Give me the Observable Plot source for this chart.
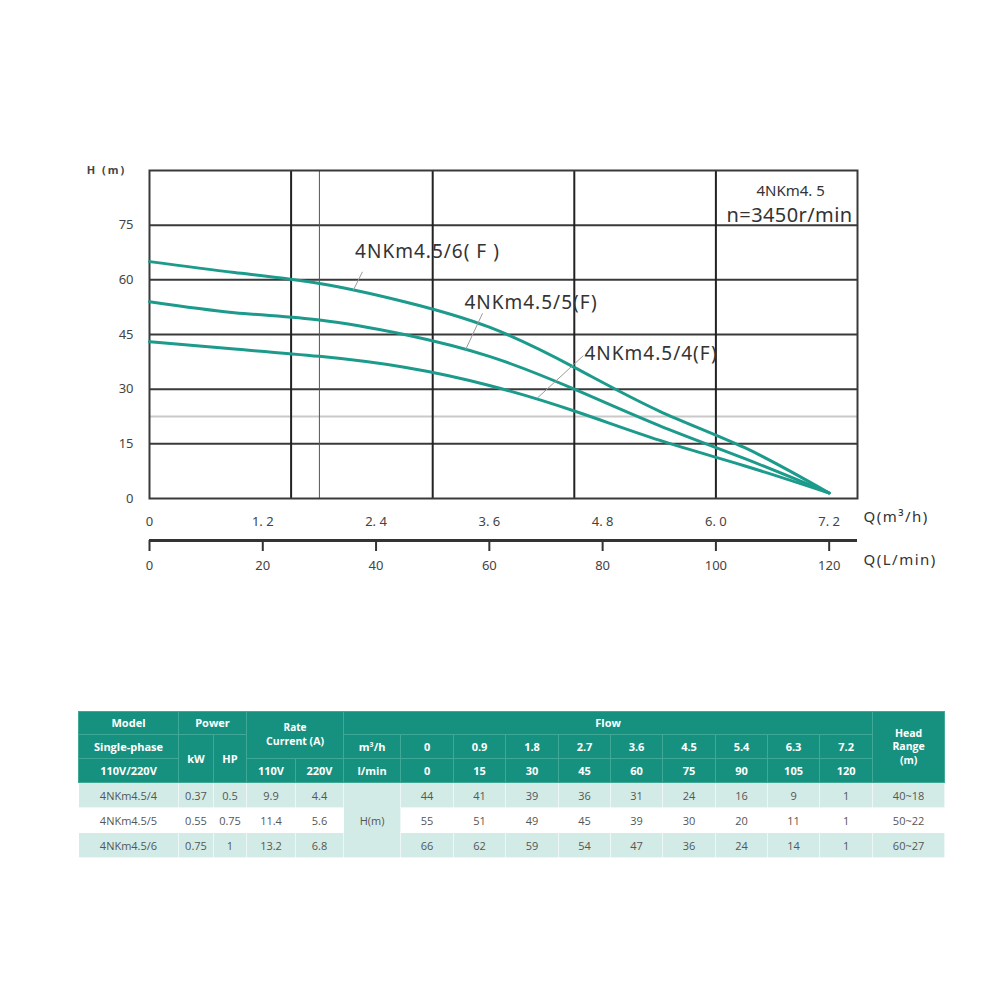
<!DOCTYPE html>
<html>
<head>
<meta charset="utf-8">
<script src="https://cdn.jsdelivr.net/npm/d3@7"></script>
<script src="https://cdn.jsdelivr.net/npm/@observablehq/plot@0.6"></script>
<style>
  html, body { margin: 0; padding: 0; background: #fff; width: 1000px; height: 1000px; overflow: hidden; }
  #chart { position: absolute; left: 0; top: 0; }
  #tbl { position: absolute; left: 78px; top: 711px; }
  table { border-collapse: collapse; table-layout: fixed; width: 866px; font-family: "Open Sans", "Noto Sans", sans-serif; font-size: 11px; }
  th { background: #17917f; color: #fff; font-weight: 700; border: 1px solid #3fa897; padding: 0; text-align: center; line-height: 1.25; }
  td { color: #555; border: 1px solid rgba(255,255,255,0.6); padding: 0; text-align: center; height: 24px; }
  tr.h1 th { height: 22px; }
  tr.h2 th, tr.h3 th { height: 23px; }
  tr.alt td { background: #d3ebe6; }
  tr.plain td { background: #fff; }
  td.hm { background: #d3ebe6 !important; }
  th.multi { line-height: 1.3; font-size: 10.5px; }
  .small { font-size: 10px; }
</style>
</head>
<body>
<div id="chart"></div>
<div id="tbl"></div>
<script>
// ---------- data ----------
const flowLmin = [0, 15, 30, 45, 60, 75, 90, 105, 120];
const flowM3h = ["0", "0.9", "1.8", "2.7", "3.6", "4.5", "5.4", "6.3", "7.2"];
const models = ["4NKm4.5/4", "4NKm4.5/5", "4NKm4.5/6"];
const powerKW = ["0.37", "0.55", "0.75"];
const powerHP = ["0.5", "0.75", "1"];
const current110 = ["9.9", "11.4", "13.2"];
const current220 = ["4.4", "5.6", "6.8"];
const headTable4 = [44, 41, 39, 36, 31, 24, 16, 9, 1];
const headTable5 = [55, 51, 49, 45, 39, 30, 20, 11, 1];
const headTable6 = [66, 62, 59, 54, 47, 36, 24, 14, 1];
const headRange = ["40~18", "50~22", "60~27"];

// curves as drawn on the chart (H in m vs Q in L/min)
const curveH4 = [43, 41, 39, 36, 31, 24, 16, 9, 1.5];
const curveH5 = [54, 51, 49, 45, 39, 30, 20, 11, 1.5];
const curveH6 = [65, 62, 59, 54, 47, 36, 24, 14, 1.5];

const yTicks = [0, 15, 30, 45, 60, 75];
const yGrid = [15, 30, 45, 60, 75];
const xTicksLmin = [0, 20, 40, 60, 80, 100, 120];
const xTicksM3h = ["0", "1. 2", "2. 4", "3. 6", "4. 8", "6. 0", "7. 2"];
const xGridMajor = [25, 50, 75, 100];
const xGridMinor = [30];
const yGridLight = [22.5];

const curveLabels = ["4NKm4.5/6( F )", "4NKm4.5/5(F)", "4NKm4.5/4(F)"];
const labelX = [36.3, 55.6, 76.8];
const labelY = [67.6, 53.6, 39.6];
const leaderX1 = [37.6, 58.8, 76.6];
const leaderY1 = [62.2, 50.8, 39.2];
const leaderX2 = [36.0, 55.8, 68.5];
const leaderY2 = [57.2, 40.8, 27.6];

const titleLines = ["4NKm4. 5", "n=3450r/min"];
const titleX = [113.2, 113.0];
const titleY = [84.2, 77.5];
const titleSize = [15, 20];

// ---------- build ----------
const curveData = [];
[[models[0], curveH4], [models[1], curveH5], [models[2], curveH6]].forEach(([m, arr]) => {
  arr.forEach((h, i) => curveData.push({model: m, q: flowLmin[i], h}));
});
const labels = curveLabels.map((t, i) => ({t, x: labelX[i], y: labelY[i]}));
const leaders = leaderX1.map((x, i) => ({x1: x, y1: leaderY1[i], x2: leaderX2[i], y2: leaderY2[i]}));
const titles = titleLines.map((t, i) => ({t, x: titleX[i], y: titleY[i], s: titleSize[i]}));

const grid = "#3a3a3a";
const teal = "#1c9b8c";

const chart = Plot.plot({
  width: 1000,
  height: 600,
  marginLeft: 149,
  marginRight: 143,
  marginTop: 170,
  marginBottom: 102,
  x: {domain: [0, 125]},
  y: {domain: [0, 90]},
  style: {fontFamily: "'Noto Sans', 'Open Sans', sans-serif", background: "#fff", color: "#444"},
  marks: [
    Plot.ruleY(yGridLight, {stroke: "#c9c9c9", strokeWidth: 2}),
    Plot.ruleY(yGrid, {stroke: grid, strokeWidth: 2}),
    Plot.ruleX(xGridMajor, {stroke: "#222", strokeWidth: 2}),
    Plot.ruleX(xGridMinor, {stroke: "#555", strokeWidth: 1}),
    Plot.frame({stroke: grid, strokeWidth: 2}),
    Plot.axisY({ticks: yTicks, tickSize: 0, tickPadding: 16, fontSize: 13, label: null, fill: "#444"}),
    Plot.axisX({ticks: xTicksLmin, tickSize: 0, tickPadding: 18, fontSize: 13, label: null, fill: "#444",
      tickFormat: d => xTicksM3h[xTicksLmin.indexOf(d)]}),
    Plot.ruleY([0], {dy: 42, stroke: "#333", strokeWidth: 3}),
    Plot.axisX({ticks: xTicksLmin, tickSize: 11, tickPadding: 9, dy: 42, fontSize: 13, label: null,
      stroke: "#333", strokeWidth: 2, fill: "#444", tickFormat: d => String(d)}),
    Plot.line(curveData, {x: "q", y: "h", z: "model", stroke: teal, strokeWidth: 3, curve: "natural"}),
    Plot.link(leaders, {x1: "x1", y1: "y1", x2: "x2", y2: "y2", stroke: "#9a9a9a", strokeWidth: 1}),
    Plot.text(labels, {x: "x", y: "y", text: "t", textAnchor: "start", fontSize: 19, fill: "#333"}),
    Plot.text(titles, {x: "x", y: "y", text: "t", textAnchor: "middle", fontSize: d => d.s, fill: "#333"}),
    Plot.text(["H (m)"], {frameAnchor: "top-left", textAnchor: "middle", dx: -43, dy: -4, fontSize: 11, fontWeight: "bold", fill: "#444"}),
    Plot.text(["Q(m³/h)"], {frameAnchor: "bottom-right", textAnchor: "start", dx: 6, dy: 23, fontSize: 15, fill: "#333"}),
    Plot.text(["Q(L/min)"], {frameAnchor: "bottom-right", textAnchor: "start", dx: 6, dy: 66, fontSize: 15, fill: "#333"})
  ]
});
// letter spacing tweaks for the wide-set labels
d3.select(chart).selectAll("text").each(function() {
  const t = this.textContent;
  if (t.startsWith("4NKm4.5/")) this.style.letterSpacing = "1px";
  if (t === "H (m)") this.style.letterSpacing = "2px";
  if (t.startsWith("Q(")) this.style.letterSpacing = "1.5px";
  if (t === "n=3450r/min") this.style.letterSpacing = "0.4px";
});
document.getElementById("chart").appendChild(chart);

// ---------- table ----------
const heads = [headTable4, headTable5, headTable6];
const colW = [100, 35, 33, 49, 48, 57, 53, 52, 53, 52, 52, 53, 52, 52, 53, 72];
let html = "<table><colgroup>" + colW.map(w => `<col style="width:${w}px">`).join("") + "</colgroup>";
html += `<tr class="h1"><th>Model</th><th colspan="2">Power</th><th colspan="2" rowspan="2" class="multi"><span class="small">Rate</span><br>Current (A)</th><th colspan="10">Flow</th><th rowspan="3" class="multi">Head<br>Range<br>(m)</th></tr>`;
html += `<tr class="h2"><th>Single-phase</th><th rowspan="2">kW</th><th rowspan="2">HP</th><th>m³/h</th>` + flowM3h.map(v => `<th>${v}</th>`).join("") + `</tr>`;
html += `<tr class="h3"><th>110V/220V</th><th>110V</th><th>220V</th><th>l/min</th>` + flowLmin.map(v => `<th>${v}</th>`).join("") + `</tr>`;
models.forEach((m, r) => {
  html += `<tr class="${r === 1 ? "plain" : "alt"}"><td>${m}</td><td>${powerKW[r]}</td><td>${powerHP[r]}</td><td>${current110[r]}</td><td>${current220[r]}</td>`;
  if (r === 0) html += `<td rowspan="3" class="hm">H(m)</td>`;
  html += heads[r].map(v => `<td>${v}</td>`).join("") + `<td>${headRange[r]}</td></tr>`;
});
html += "</table>";
document.getElementById("tbl").innerHTML = html;
</script>
</body>
</html>
